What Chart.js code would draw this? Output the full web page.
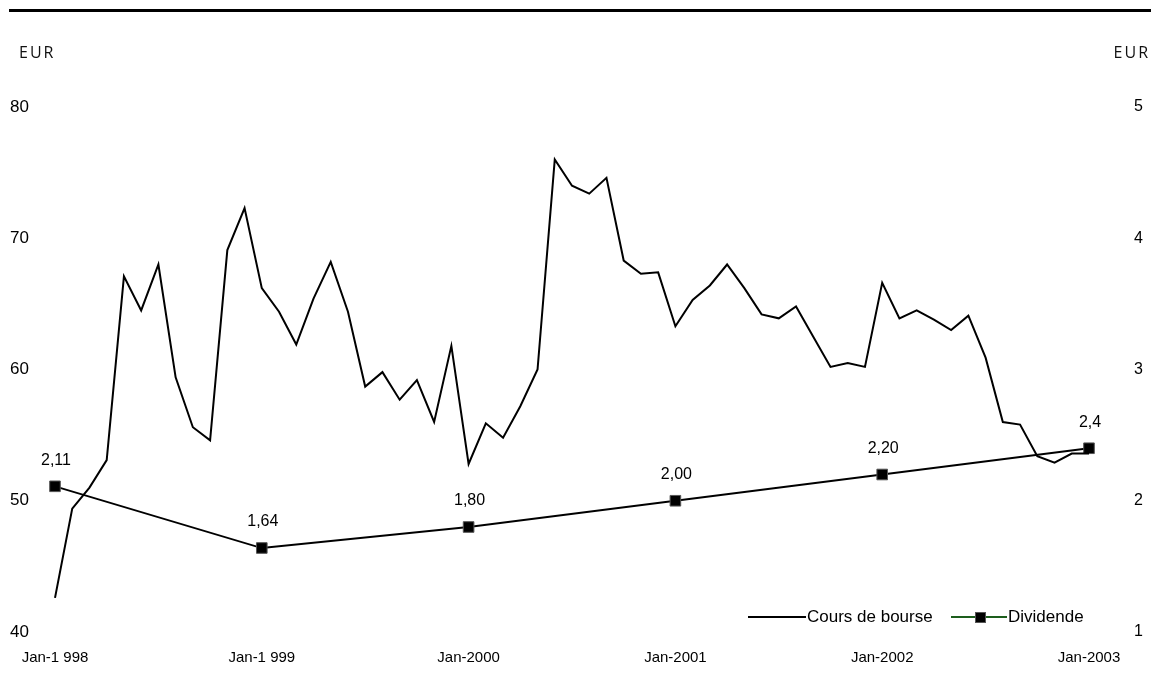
<!DOCTYPE html>
<html>
<head>
<meta charset="utf-8">
<script src="https://cdn.jsdelivr.net/npm/chart.js@4.4.0/dist/chart.umd.min.js"></script>
<style>
  html, body { margin: 0; padding: 0; background: #fff; }
  #wrap { width: 1151px; height: 692px; position: relative; }
</style>
</head>
<body>
<div id="wrap"><canvas id="chart" width="1151" height="692"></canvas></div>
<script>
// Year labels on the time axis (one tick every 12 months)
const yearLabels = ['Jan-1 998', 'Jan-1 999', 'Jan-2000', 'Jan-2001', 'Jan-2002', 'Jan-2003'];
const yearTickMonths = [0, 12, 24, 36, 48, 60];

// Monthly share price, Jan 1998 .. Jan 2003 (EUR, left axis)
const coursDeBourse = [
  42.6, 49.4, 51.0, 53.1, 67.1, 64.5, 68.0, 59.4, 55.6, 54.6, 69.1, 72.3,
  66.2, 64.4, 61.9, 65.4, 68.2, 64.4, 58.7, 59.8, 57.7, 59.2, 56.0, 61.8,
  52.8, 55.9, 54.8, 57.2, 60.0, 76.0, 74.0, 73.4, 74.6, 68.3, 67.3, 67.4,
  63.3, 65.3, 66.4, 68.0, 66.2, 64.2, 63.9, 64.8, 62.5, 60.2, 60.5, 60.2,
  66.6, 63.9, 64.5, 63.8, 63.0, 64.1, 60.9, 56.0, 55.8, 53.4, 52.9, 53.6,
  53.6
];

// Yearly dividend (EUR, right axis), placed on January of each year
const dividendeMonths = [0, 12, 24, 36, 48, 60];
const dividende = [2.11, 1.64, 1.80, 2.00, 2.20, 2.4];
const dividendeLabels = ['2,11', '1,64', '1,80', '2,00', '2,20', '2,4'];

// Axis ranges
const leftTicks = [40, 50, 60, 70, 80];
const rightTicks = [1, 2, 3, 4, 5];

const FONT = '"Liberation Sans", Arial, sans-serif';

// Frame decorations, unit captions, value labels and the legend
const decorations = {
  id: 'decorations',
  afterDatasetsDraw(chart) {
    const ctx = chart.ctx;
    ctx.save();

    // heavy rule across the top
    ctx.fillStyle = '#000';
    ctx.fillRect(9, 9, 1142, 3);

    // unit captions
    ctx.font = '16px "Open Sans", sans-serif';
    ctx.fillStyle = '#111';
    ctx.textBaseline = 'middle';
    if ('letterSpacing' in ctx) ctx.letterSpacing = '2px';
    ctx.textAlign = 'left';
    ctx.fillText('EUR', 19, 53);
    ctx.textAlign = 'right';
    ctx.fillText('EUR', 1150, 53);
    if ('letterSpacing' in ctx) ctx.letterSpacing = '0px';

    // dividend values above the markers
    const meta = chart.getDatasetMeta(1);
    ctx.font = '16px ' + FONT;
    ctx.fillStyle = '#000';
    ctx.textAlign = 'center';
    ctx.textBaseline = 'middle';
    meta.data.forEach((pt, i) => {
      ctx.fillText(dividendeLabels[i], pt.x + 1, pt.y - 26);
    });

    // legend
    const ly = 617;
    ctx.font = '17px ' + FONT;
    ctx.strokeStyle = '#000';
    ctx.lineWidth = 2;
    ctx.beginPath();
    ctx.moveTo(748, ly);
    ctx.lineTo(806, ly);
    ctx.stroke();
    ctx.textAlign = 'left';
    ctx.fillText('Cours de bourse', 807, ly);

    ctx.strokeStyle = '#1d5e1d';
    ctx.beginPath();
    ctx.moveTo(951, ly);
    ctx.lineTo(1007, ly);
    ctx.stroke();
    ctx.fillStyle = '#000';
    ctx.fillRect(975, ly - 5, 11, 11);
    ctx.strokeStyle = '#555';
    ctx.lineWidth = 1;
    ctx.strokeRect(975.5, ly - 4.5, 10, 10);
    ctx.fillStyle = '#000';
    ctx.fillText('Dividende', 1008, ly);

    ctx.restore();
  }
};

new Chart(document.getElementById('chart'), {
  type: 'line',
  data: {
    datasets: [
      {
        label: 'Cours de bourse',
        data: coursDeBourse.map((v, i) => ({ x: i, y: v })),
        yAxisID: 'y',
        borderColor: '#000',
        borderWidth: 2,
        pointRadius: 0,
        tension: 0,
        fill: false,
        clip: false
      },
      {
        label: 'Dividende',
        data: dividendeMonths.map((m, i) => ({ x: m, y: dividende[i] })),
        yAxisID: 'y1',
        borderColor: '#000',
        borderWidth: 1.8,
        pointStyle: 'rect',
        pointRadius: 7.5,
        pointBackgroundColor: '#000',
        pointBorderColor: '#555',
        pointBorderWidth: 1,
        tension: 0,
        fill: false,
        clip: false
      }
    ]
  },
  options: {
    responsive: false,
    animation: false,
    events: [],
    layout: { padding: { left: 10, right: 8, top: 107, bottom: 15 } },
    plugins: {
      legend: { display: false },
      tooltip: { enabled: false }
    },
    scales: {
      x: {
        type: 'linear',
        min: 0,
        max: 60,
        grid: { display: false, drawTicks: false },
        border: { display: false },
        afterBuildTicks(scale) { scale.ticks = yearTickMonths.map(v => ({ value: v })); },
        afterFit(scale) { scale.height = 45; },
        ticks: {
          autoSkip: false,
          maxRotation: 0,
          padding: 17,
          color: '#000',
          font: { family: FONT, size: 15 },
          callback: (v) => yearLabels[yearTickMonths.indexOf(v)]
        }
      },
      y: {
        position: 'left',
        min: leftTicks[0],
        max: leftTicks[leftTicks.length - 1],
        grid: { display: false, drawTicks: false },
        border: { display: false },
        afterBuildTicks(scale) { scale.ticks = leftTicks.map(v => ({ value: v })); },
        afterFit(scale) { scale.width = 45; },
        ticks: {
          crossAlign: 'far',
          color: '#000',
          font: { family: FONT, size: 17 }
        }
      },
      y1: {
        position: 'right',
        min: rightTicks[0],
        max: rightTicks[rightTicks.length - 1],
        grid: { display: false, drawTicks: false },
        border: { display: false },
        afterBuildTicks(scale) { scale.ticks = rightTicks.map(v => ({ value: v })); },
        afterFit(scale) { scale.width = 54; },
        ticks: {
          crossAlign: 'far',
          color: '#000',
          font: { family: FONT, size: 16 }
        }
      }
    }
  },
  plugins: [decorations]
});
</script>
</body>
</html>
